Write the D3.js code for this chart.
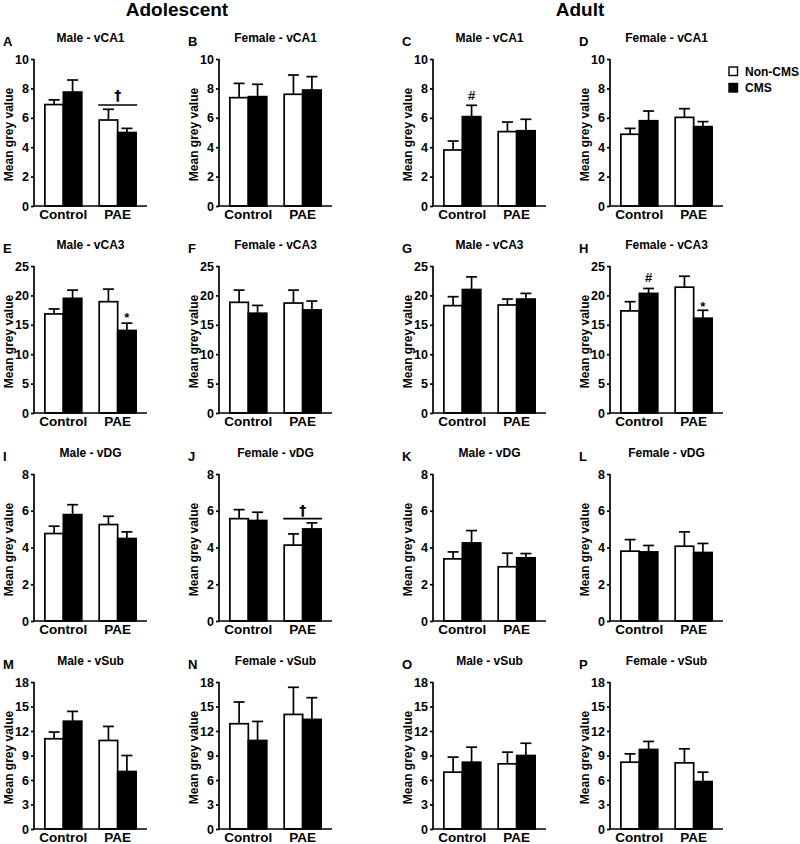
<!DOCTYPE html>
<html>
<head>
<meta charset="utf-8">
<script src="https://cdn.jsdelivr.net/npm/d3@7"></script>
<style>
  html, body { margin: 0; padding: 0; background: #fff; }
  svg text { font-family: Arial, "Liberation Sans", sans-serif; font-weight: bold; fill: #000; }
</style>
</head>
<body>
<svg id="chart" width="800" height="844"></svg>
<script>
// ---- Data ----
const groups = ["Control", "PAE"];
const treatments = ["Non-CMS", "CMS"];
const panelLetters = ["A","B","C","D","E","F","G","H","I","J","K","L","M","N","O","P"];
const panelTitles = [
  "Male - vCA1","Female - vCA1","Male - vCA1","Female - vCA1",
  "Male - vCA3","Female - vCA3","Male - vCA3","Female - vCA3",
  "Male - vDG","Female - vDG","Male - vDG","Female - vDG",
  "Male - vSub","Female - vSub","Male - vSub","Female - vSub"
];
const columnHeaders = ["Adolescent", "Adult"];
const yLabel = "Mean grey value";
const rowMax = [10, 25, 8, 18];
const rowTicks = [
  [0,2,4,6,8,10],
  [0,5,10,15,20,25],
  [0,2,4,6,8],
  [0,3,6,9,12,15,18]
];
// means per panel (A..P)
const controlNonCMS = [6.9, 7.37, 3.81, 4.88, 16.85, 18.82, 18.26, 17.36, 4.76, 5.57, 3.38, 3.8, 11.05, 12.89, 6.96, 8.18];
const controlCMS    = [7.75, 7.44, 6.08, 5.8, 19.5, 16.97, 21.0, 20.34, 5.79, 5.47, 4.25, 3.76, 13.2, 10.84, 8.18, 9.74];
const paeNonCMS     = [5.85, 7.6, 5.06, 6.03, 18.93, 18.7, 18.37, 21.4, 5.25, 4.13, 2.95, 4.07, 10.84, 14.03, 7.98, 8.1];
const paeCMS        = [5.0, 7.89, 5.12, 5.4, 14.04, 17.53, 19.38, 16.12, 4.49, 5.01, 3.44, 3.73, 7.04, 13.42, 9.0, 5.81];
// SEM per panel (A..P)
const controlNonCMSErr = [0.32, 0.97, 0.61, 0.4, 0.85, 2.08, 1.52, 1.57, 0.4, 0.49, 0.38, 0.63, 0.82, 2.66, 1.84, 1.02];
const controlCMSErr    = [0.82, 0.84, 0.77, 0.66, 1.4, 1.33, 2.15, 0.84, 0.54, 0.45, 0.67, 0.35, 1.2, 2.33, 1.84, 0.98];
const paeNonCMSErr     = [0.73, 1.31, 0.65, 0.59, 2.14, 2.2, 1.01, 1.86, 0.45, 0.61, 0.74, 0.78, 1.72, 3.32, 1.43, 1.72];
const paeCMSErr        = [0.28, 0.91, 0.78, 0.34, 1.24, 1.51, 0.96, 1.35, 0.36, 0.33, 0.23, 0.49, 1.96, 2.66, 1.5, 1.15];
// significance annotations
const annotations = [
  {panel: "A", symbol: "\u2020", group: "PAE", bar: null, level: 7.55, lineLevel: 6.87},
  {panel: "C", symbol: "#", group: "Control", bar: "CMS", level: 7.55},
  {panel: "E", symbol: "*", group: "PAE", bar: "CMS", level: 16.9},
  {panel: "H", symbol: "#", group: "Control", bar: "CMS", level: 23.0},
  {panel: "H", symbol: "*", group: "PAE", bar: "CMS", level: 18.75},
  {panel: "J", symbol: "\u2020", group: "PAE", bar: null, level: 6.05, lineLevel: 5.57}
];

// ---- Layout ----
const colAxisX = [34, 219, 433, 610];
const rowTop = [59, 266, 474, 682];
const plotH = 147;
const plotW = 113;

const svg = d3.select("#chart");

// column headers
svg.append("text").attr("x", 177).attr("y", 16).attr("text-anchor", "middle")
  .style("font-size", "19px").text(columnHeaders[0]);
svg.append("text").attr("x", 580).attr("y", 16).attr("text-anchor", "middle")
  .style("font-size", "19px").text(columnHeaders[1]);

panelLetters.forEach((letter, i) => {
  const row = Math.floor(i / 4), col = i % 4;
  const x0 = colAxisX[col], top = rowTop[row], bottom = top + plotH;
  const g = svg.append("g");

  const y = d3.scaleLinear().domain([0, rowMax[row]]).range([bottom, top]);
  const xg = d3.scaleBand().domain(groups).range([x0, x0 + plotW]).paddingInner(0.32).paddingOuter(0.2);
  const xt = d3.scaleBand().domain(treatments).range([0, xg.bandwidth()]).padding(0);

  const data = [
    {group: "Control", tr: "Non-CMS", v: controlNonCMS[i], e: controlNonCMSErr[i]},
    {group: "Control", tr: "CMS", v: controlCMS[i], e: controlCMSErr[i]},
    {group: "PAE", tr: "Non-CMS", v: paeNonCMS[i], e: paeNonCMSErr[i]},
    {group: "PAE", tr: "CMS", v: paeCMS[i], e: paeCMSErr[i]}
  ];

  // error bars (upper only)
  const capW = 11;
  data.forEach(d => {
    const cx = xg(d.group) + xt(d.tr) + xt.bandwidth() / 2;
    g.append("line").attr("x1", cx).attr("x2", cx).attr("y1", y(d.v)).attr("y2", y(d.v + d.e))
      .attr("stroke", "#000").attr("stroke-width", 1.7);
    g.append("line").attr("x1", cx - capW / 2).attr("x2", cx + capW / 2)
      .attr("y1", y(d.v + d.e)).attr("y2", y(d.v + d.e))
      .attr("stroke", "#000").attr("stroke-width", 1.7);
  });

  // bars
  g.selectAll("rect.bar").data(data).enter().append("rect")
    .attr("x", d => xg(d.group) + xt(d.tr))
    .attr("y", d => y(d.v))
    .attr("width", xt.bandwidth())
    .attr("height", d => y(0) - y(d.v))
    .attr("fill", d => d.tr === "CMS" ? "#000" : "#fff")
    .attr("stroke", "#000").attr("stroke-width", 1.7);

  // y axis
  const yAxis = d3.axisLeft(y).tickValues(rowTicks[row]).tickSize(3).tickPadding(2);
  const ya = g.append("g").attr("transform", `translate(${x0},0)`).call(yAxis);
  ya.select(".domain").attr("stroke-width", 1.7).attr("d", `M0,${top}V${bottom}`);
  ya.selectAll(".tick line").attr("stroke-width", 1.7);
  ya.selectAll(".tick text").style("font-size", "12.5px").style("font-family", "Arial, 'Liberation Sans', sans-serif").style("font-weight", "bold");

  // x axis
  const xAxis = d3.axisBottom(xg).tickSize(0).tickPadding(4);
  const xa = g.append("g").attr("transform", `translate(0,${bottom})`).call(xAxis);
  xa.select(".domain").attr("stroke-width", 1.7).attr("d", `M${x0},0H${x0 + plotW}`);
  xa.selectAll(".tick text").style("font-size", "13.5px").style("font-family", "Arial, 'Liberation Sans', sans-serif").style("font-weight", "bold").attr("dy", "0.7em");

  // y label
  g.append("text")
    .attr("transform", `translate(${x0 - 25},${top + plotH / 2 + 2}) rotate(-90)`)
    .attr("text-anchor", "middle").attr("dominant-baseline", "central")
    .style("font-size", "12px").text(yLabel);

  // title & letter
  g.append("text").attr("x", x0 + plotW / 2).attr("y", top - 17).attr("text-anchor", "middle")
    .style("font-size", "12px").text(panelTitles[i]);
  g.append("text").attr("x", x0 - 31).attr("y", top - 13)
    .style("font-size", "13px").text(letter);

  // annotations
  annotations.filter(a => a.panel === letter).forEach(a => {
    let cx;
    if (a.bar) {
      cx = xg(a.group) + xt(a.bar) + xt.bandwidth() / 2;
    } else {
      cx = xg(a.group) + xg.bandwidth() / 2;
    }
    if (a.lineLevel !== undefined) {
      g.append("line").attr("x1", xg(a.group) - 1).attr("x2", xg(a.group) + xg.bandwidth() + 1)
        .attr("y1", y(a.lineLevel)).attr("y2", y(a.lineLevel))
        .attr("stroke", "#000").attr("stroke-width", 1.7);
    }
    const t = g.append("text").attr("x", cx).attr("y", y(a.level))
      .attr("text-anchor", "middle")
      .attr("dy", a.symbol === "*" ? "0.62em" : "0.36em")
      .style("font-size", "13px").text(a.symbol);
    if (a.symbol === "\u2020") {
      t.style("font-family", "'DejaVu Sans', sans-serif").style("font-size", "14px");
    }
  });
});

// legend
const legend = svg.append("g").attr("transform", "translate(729,67)");
treatments.forEach((t, k) => {
  legend.append("rect").attr("x", 0).attr("y", k * 16.5).attr("width", 8.5).attr("height", 8.5)
    .attr("fill", t === "CMS" ? "#000" : "#fff").attr("stroke", "#000").attr("stroke-width", 1.4);
  legend.append("text").attr("x", 16).attr("y", k * 16.5 + 4.5).attr("dominant-baseline", "central")
    .style("font-size", "12px").text(t);
});
</script>
</body>
</html>
